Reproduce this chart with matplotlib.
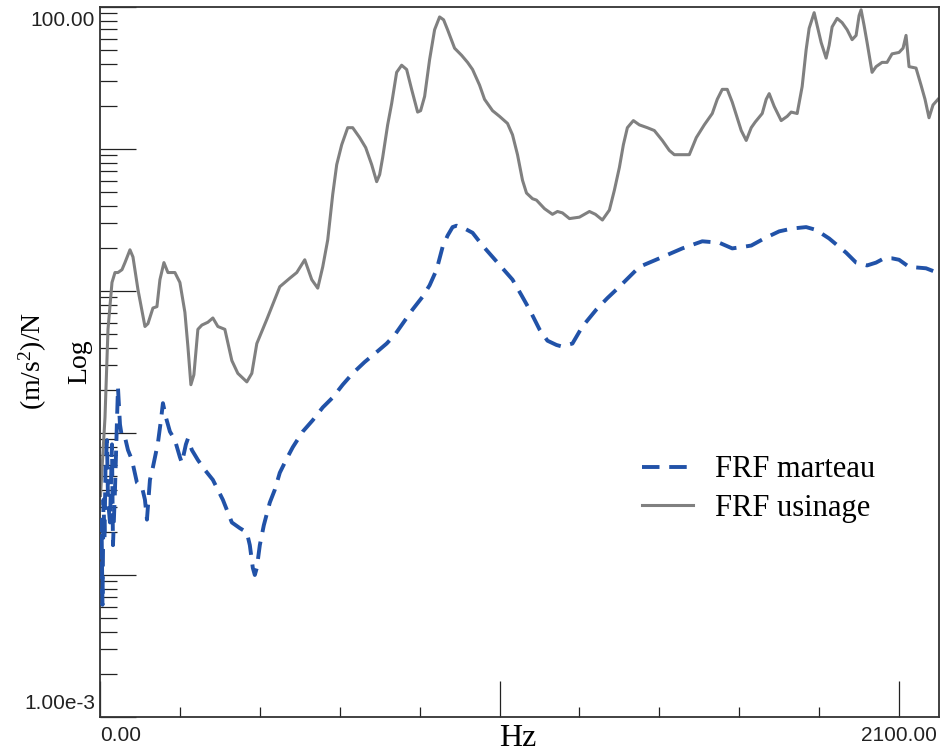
import numpy as np
import matplotlib
matplotlib.use('Agg')
import matplotlib.pyplot as plt

# FRF usinage (grey, solid) - frequency in Hz, log10 of amplitude (m/s^2)/N
usinage_hz = [1.25, 5, 12.5, 20, 30, 37.5, 45, 55, 62.5, 75, 82.5, 95, 112.5, 120, 132.5,
              142.5, 150, 160, 170, 187.5, 200, 212.5, 220, 227.5, 235, 245, 255, 270,
              282.5, 295, 312.5, 330, 345, 367.5, 380, 392.5, 417.5, 450, 475, 492.5,
              512.5, 530, 545, 557.5, 570, 582.5, 592.5, 605, 620, 632.5, 650, 665, 680,
              692.5, 700, 707.5, 720, 730, 742.5, 755, 767.5, 780, 795, 802.5, 812.5, 825,
              837.5, 850, 860, 870, 887.5, 905, 920, 932.5, 950, 962.5, 982.5, 1000, 1020,
              1032.5, 1045, 1057.5, 1067.5, 1082.5, 1092.5, 1112.5, 1132.5, 1145, 1157.5,
              1175, 1200, 1225, 1240, 1257.5, 1275, 1287.5, 1300, 1310, 1320, 1335, 1350,
              1370, 1387.5, 1407.5, 1425, 1437.5, 1475, 1492.5, 1512.5, 1532.5, 1545,
              1557.5, 1570, 1582.5, 1592.5, 1605, 1617.5, 1630, 1640, 1657.5, 1667.5, 1675,
              1687.5, 1705, 1720, 1730, 1745, 1757.5, 1767.5, 1775, 1787.5, 1797.5, 1805,
              1817.5, 1825, 1832.5, 1845, 1857.5, 1870, 1882.5, 1892.5, 1900, 1905, 1912.5,
              1920, 1932.5, 1942.5, 1957.5, 1970, 1982.5, 2000, 2010, 2017.5, 2025, 2042.5,
              2055, 2065, 2075, 2085, 2097.5]
usinage_log = [-1.44, -1.26, -0.89, -0.27, 0.06, 0.13, 0.13, 0.15, 0.20, 0.29, 0.24, 0.01,
               -0.25, -0.23, -0.12, -0.11, 0.08, 0.20, 0.13, 0.13, 0.06, -0.15, -0.39,
               -0.66, -0.59, -0.27, -0.24, -0.22, -0.19, -0.25, -0.27, -0.49, -0.58, -0.64,
               -0.58, -0.37, -0.20, 0.03, 0.09, 0.13, 0.22, 0.08, 0.02, 0.17, 0.36, 0.68,
               0.89, 1.03, 1.15, 1.15, 1.08, 1.01, 0.89, 0.77, 0.82, 0.94, 1.17, 1.32, 1.54,
               1.59, 1.56, 1.42, 1.26, 1.27, 1.37, 1.63, 1.84, 1.93, 1.91, 1.84, 1.71, 1.66,
               1.61, 1.56, 1.45, 1.35, 1.27, 1.23, 1.18, 1.10, 0.96, 0.78, 0.69, 0.65, 0.64,
               0.58, 0.54, 0.56, 0.55, 0.51, 0.52, 0.56, 0.54, 0.50, 0.57, 0.71, 0.87, 1.03,
               1.15, 1.20, 1.17, 1.15, 1.13, 1.06, 0.99, 0.96, 0.96, 1.08, 1.17, 1.25, 1.35,
               1.42, 1.42, 1.33, 1.24, 1.13, 1.06, 1.15, 1.19, 1.25, 1.35, 1.39, 1.30, 1.20,
               1.23, 1.26, 1.25, 1.44, 1.70, 1.85, 1.96, 1.84, 1.75, 1.64, 1.73, 1.86, 1.92,
               1.89, 1.84, 1.77, 1.80, 1.94, 1.98, 1.87, 1.75, 1.54, 1.58, 1.61, 1.61, 1.67,
               1.68, 1.71, 1.80, 1.58, 1.57, 1.45, 1.35, 1.22, 1.31, 1.35]

# FRF marteau (blue, dashed)
marteau_hz = [1.25, 3.75, 6.25, 8.75, 11.25, 13.75, 17.5, 20, 25, 30, 32.5, 37.5, 42.5, 45,
              50, 55, 62.5, 70, 80, 92.5, 105, 112.5, 117.5, 125, 132.5, 145, 152.5, 157.5,
              165, 175, 187.5, 200, 205, 215, 220, 230, 245, 262.5, 282.5, 307.5, 330, 350,
              367.5, 375, 382.5, 387.5, 392.5, 400, 410, 425, 437.5, 450, 467.5, 482.5,
              507.5, 532.5, 557.5, 582.5, 607.5, 632.5, 662.5, 692.5, 717.5, 737.5, 757.5,
              782.5, 807.5, 825, 842.5, 857.5, 870, 882.5, 892.5, 912.5, 932.5, 957.5,
              982.5, 1007.5, 1032.5, 1055, 1075, 1100, 1120, 1142.5, 1155, 1182.5, 1207.5,
              1242.5, 1270, 1300, 1350, 1400, 1457.5, 1507.5, 1550, 1582.5, 1607.5, 1630,
              1662.5, 1700, 1732.5, 1767.5, 1792.5, 1825, 1867.5, 1892.5, 1920, 1942.5,
              1962.5, 1982.5, 2000, 2025, 2067.5, 2095]
marteau_log = [-1.89, -1.61, -2.21, -1.47, -1.75, -1.26, -1.05, -1.47, -1.63, -1.08, -1.79,
               -1.40, -0.91, -0.68, -0.94, -1.03, -1.03, -1.12, -1.19, -1.35, -1.38, -1.47,
               -1.61, -1.33, -1.24, -1.07, -0.91, -0.79, -0.89, -0.99, -1.05, -1.17, -1.21,
               -1.08, -1.04, -1.12, -1.19, -1.26, -1.33, -1.47, -1.63, -1.67, -1.70, -1.79,
               -1.95, -2.00, -1.95, -1.79, -1.65, -1.49, -1.40, -1.28, -1.18, -1.10, -0.99,
               -0.91, -0.82, -0.75, -0.66, -0.58, -0.50, -0.43, -0.37, -0.31, -0.23, -0.13,
               -0.04, 0.04, 0.15, 0.31, 0.39, 0.45, 0.46, 0.44, 0.41, 0.32, 0.24, 0.16, 0.08,
               -0.03, -0.13, -0.27, -0.35, -0.38, -0.39, -0.37, -0.25, -0.13, -0.05, 0.03,
               0.17, 0.23, 0.30, 0.35, 0.34, 0.30, 0.31, 0.32, 0.37, 0.42, 0.44, 0.45, 0.43,
               0.37, 0.27, 0.20, 0.18, 0.20, 0.23, 0.23, 0.22, 0.17, 0.16, 0.13]

serif = 'Liberation Serif'
sans = 'Liberation Sans'
plt.rcParams['mathtext.fontset'] = 'custom'
plt.rcParams['mathtext.rm'] = serif
plt.rcParams['mathtext.it'] = serif + ':italic'

fig = plt.figure(figsize=(9.41, 7.54), dpi=100)
ax = fig.add_axes([100 / 941, 37 / 754, 839 / 941, 710 / 754])

ax.plot(usinage_hz, 10 ** np.array(usinage_log), color='#808080', lw=2.2,
        label='FRF usinage', zorder=2)
ax.plot(marteau_hz, 10 ** np.array(marteau_log), color='#2152a8', lw=2.8,
        dashes=(4.5, 2.5), dash_capstyle='butt', label='FRF marteau', zorder=3)

ax.set_yscale('log')
ax.set_xlim(0, 2100)
ax.set_ylim(1e-3, 100)

# ticks drawn inside, no numbers on them
ax.set_xticks([0, 1000, 2000])
ax.set_xticks([200, 400, 600, 800, 1200, 1400, 1600, 1800], minor=True)
ax.tick_params(axis='x', which='major', direction='in', length=26, width=0.9,
               color='#222222', labelbottom=False)
ax.tick_params(axis='x', which='minor', direction='in', length=7, width=0.9,
               color='#222222', labelbottom=False)
ax.yaxis.set_major_locator(matplotlib.ticker.LogLocator(base=10, numticks=10))
ax.yaxis.set_minor_locator(matplotlib.ticker.LogLocator(base=10, subs=np.arange(2, 10), numticks=20))
ax.tick_params(axis='y', which='major', direction='in', length=26, width=0.9,
               color='#222222', labelleft=False)
ax.tick_params(axis='y', which='minor', direction='in', length=12, width=0.9,
               color='#222222', labelleft=False)
for s in ax.spines.values():
    s.set_color('#333333')
    s.set_linewidth(1.3)

# end labels only
lab = dict(fontsize=15, family=sans, color='#222222', transform=ax.transAxes)
ax.text(-0.006, 0.995, '100.00', ha='right', va='top', **lab)
ax.text(-0.006, 0.005, '1.00e-3', ha='right', va='bottom', **lab)
ax.text(0.0, -0.012, '0.00', ha='left', va='top', **lab)
ax.text(0.998, -0.012, '2100.00', ha='right', va='top', **lab)

fig.text(518 / 941, 1 - 738 / 754, 'Hz', fontsize=23, family=serif, ha='center', va='center')
fig.text(80 / 941, 1 - 362 / 754, 'Log', fontsize=20, family=serif, rotation=90,
         ha='center', va='center')
fig.text(33 / 941, 1 - 361 / 754, '(m/s$^2$)/N', fontsize=20, family=serif, rotation=90,
         ha='center', va='center')

handles, labels = ax.get_legend_handles_labels()
ax.legend(handles[::-1], labels[::-1], loc='upper left', bbox_to_anchor=(614 / 941, 1 - 428 / 754),
          bbox_transform=fig.transFigure, frameon=False,
          prop={'family': serif, 'size': 22}, handlelength=1.7, handletextpad=0.7,
          labelspacing=0.3)

fig.savefig('out.png', dpi=100)
